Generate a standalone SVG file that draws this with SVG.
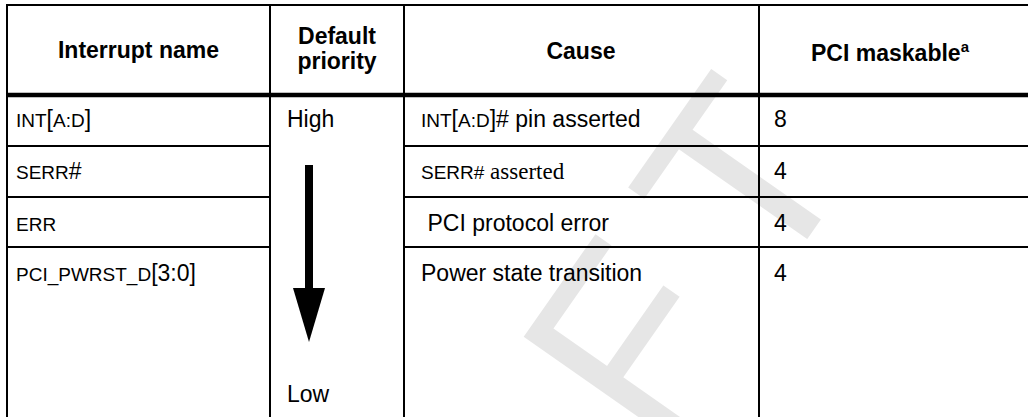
<svg xmlns="http://www.w3.org/2000/svg" width="1028" height="417" viewBox="0 0 1028 417">
  <style>
    .wm { font-family: "Liberation Sans", Arial, sans-serif; fill: #e6e6e6; }
    .hd { font-family: "Liberation Sans", Arial, sans-serif; font-weight: bold; font-size: 23px; fill: #000; text-anchor: middle; }
    .tx { font-family: "Liberation Sans", Arial, sans-serif; font-size: 23px; fill: #000; }
    .sc { font-size: 19px; }
    .serif { font-family: "Liberation Serif", "Times New Roman", serif; }
    .ln { stroke: #000; stroke-width: 2; fill: none; }
    .thick { stroke: #000; stroke-width: 4.5; fill: none; }
  </style>

  <rect x="0" y="0" width="1028" height="417" fill="#fff"/>

  <!-- watermark -->
  <g id="watermark">
    <text class="wm" transform="translate(656,455) rotate(-55)" font-size="256" letter-spacing="41">FT</text>
  </g>

  <!-- table grid -->
  <g id="grid">
    <line class="ln" x1="6" y1="5" x2="1028" y2="5"/>
    <line class="ln" x1="7" y1="4" x2="7" y2="417"/>
    <line class="ln" x1="270" y1="5" x2="270" y2="417"/>
    <line class="ln" x1="404" y1="5" x2="404" y2="417"/>
    <line class="ln" x1="759" y1="5" x2="759" y2="417"/>
    <line class="thick" x1="6" y1="95" x2="1028" y2="95"/>
    <line class="ln" x1="6" y1="146" x2="270" y2="146"/>
    <line class="ln" x1="404" y1="146" x2="1028" y2="146"/>
    <line class="ln" x1="6" y1="197" x2="270" y2="197"/>
    <line class="ln" x1="404" y1="197" x2="1028" y2="197"/>
    <line class="ln" x1="6" y1="247" x2="270" y2="247"/>
    <line class="ln" x1="404" y1="247" x2="1028" y2="247"/>
  </g>

  <!-- header -->
  <g id="header">
    <text class="hd" x="138.5" y="58">Interrupt name</text>
    <text class="hd" x="337" y="44">Default</text>
    <text class="hd" x="337" y="69">priority</text>
    <text class="hd" x="581" y="59">Cause</text>
    <text class="hd" x="890" y="61">PCI maskable<tspan font-size="15" dy="-9">a</tspan></text>
  </g>

  <!-- interrupt names -->
  <g id="col-name">
    <text class="tx" x="16" y="127"><tspan class="sc">INT</tspan>[<tspan class="sc">A:D</tspan>]</text>
    <text class="tx" x="16" y="179"><tspan class="sc">SERR</tspan>#</text>
    <text class="tx" x="16" y="231"><tspan class="sc">ERR</tspan></text>
    <text class="tx" x="16" y="281"><tspan class="sc">PCI_PWRST_D</tspan>[3:0]</text>
  </g>

  <!-- priority -->
  <g id="col-priority">
    <text class="tx" x="287" y="127">High</text>
    <g id="priority-arrow">
      <rect x="305" y="165" width="8" height="124" fill="#000"/>
      <polygon points="293,288 325,288 309,342" fill="#000"/>
    </g>
    <text class="tx" x="287" y="402">Low</text>
  </g>

  <!-- causes -->
  <g id="col-cause">
    <text class="tx" x="421" y="127"><tspan class="sc">INT</tspan>[<tspan class="sc">A:D</tspan>]# pin asserted</text>
    <text class="tx" x="421" y="179"><tspan class="sc">SERR#</tspan><tspan class="serif"> asserted</tspan></text>
    <text class="tx" x="427.5" y="231">PCI protocol error</text>
    <text class="tx" x="421" y="281">Power state transition</text>
  </g>

  <!-- maskable -->
  <g id="col-maskable">
    <text class="tx" x="774" y="127">8</text>
    <text class="tx" x="774" y="179">4</text>
    <text class="tx" x="774" y="231">4</text>
    <text class="tx" x="774" y="281">4</text>
  </g>
</svg>
